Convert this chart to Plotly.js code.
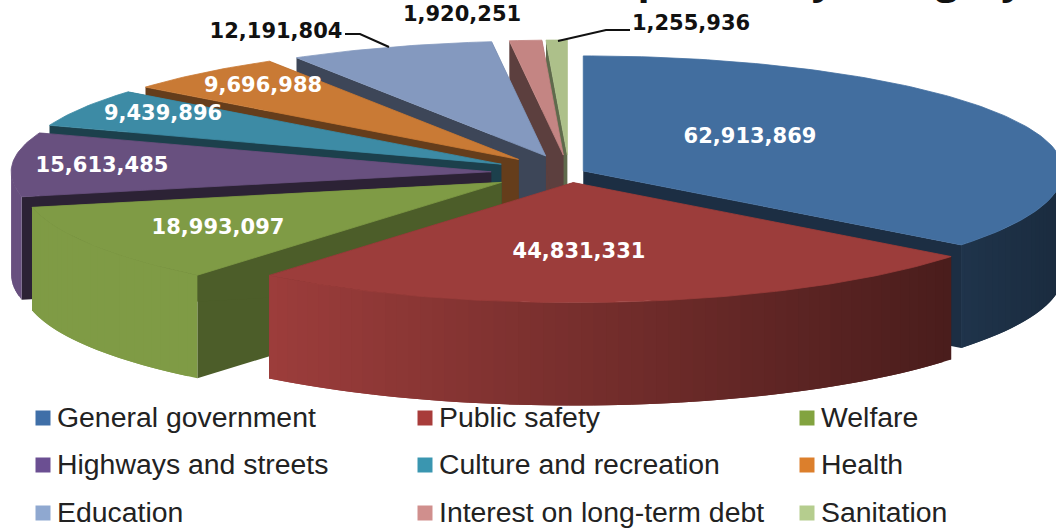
<!DOCTYPE html>
<html>
<head>
<meta charset="utf-8">
<script src="https://cdn.plot.ly/plotly-3.0.1.min.js"></script>
<style>html,body{margin:0;padding:0;background:#fff;overflow:hidden}#chart{width:1056px;height:529px}</style>
</head>
<body>
<div id="chart"></div>
<script>
// Expenses per category, in dollars
const categories = ["General government","Public safety","Welfare","Highways and streets","Culture and recreation","Health","Education","Interest on long-term debt","Sanitation"];
const amounts = [62913869,44831331,18993097,15613485,9439896,9696988,12191804,1920251,1255936];
const topColors = ["#426e9f","#9c3d3b","#7f9b45","#68507f","#3d8ba5","#c97a35","#8499bf","#c48583","#adc08a"];
const keyColors = ["#3f6fa8","#a83c3a","#82a33f","#6b4f92","#3a96b0","#dc7f2c","#8fa8d0","#d08f8d","#b5cd8e"];
const wallShades = [0.42,0.46,0.6,0.42,0.46,0.5,0.46,0.47,0.55];
const pulls = [0.04,0.08,0.15,0.15,0.15,0.15,0.15,0.15,0.15];
const nudges = [0,3,-3,-3,-2,0,3,3,3];

// Pie geometry in plot units
const cx = 566, cy = 173, rx = 480, ryFront = 120, ryBack = 115, depth = 103;
// Where each value label sits, and which ink it uses
const labelX = [750,579,218,102,163,263,276,462,691];
const labelY = [138,253,229,167,115,87,33,16,25];
const labelInk = ["#fff","#fff","#fff","#fff","#fff","#fff","#111","#111","#111"];
const keyColumns = [43,425,807];
const keyRows = [418,465,513];
// Back-to-front paint order
const paintOrder = [8,7,6,5,4,3,2,0,1];

const total = amounts.reduce((a,b)=>a+b,0);
const rad = d => d*Math.PI/180;
const spans = [];
let running = 0;
amounts.forEach(v => { const a = running; running += v/total*360; spans.push([a,running]); });

function shade(hex,f){
  const n = parseInt(hex.slice(1),16);
  const c = [n>>16,(n>>8)&255,n&255].map(v=>Math.round(v*f));
  return `rgb(${c.join(",")})`;
}
function apexOf(i){
  const mid = rad((spans[i][0]+spans[i][1])/2);
  return [cx+nudges[i]+pulls[i]*rx*Math.sin(mid), cy-pulls[i]*ryFront*Math.cos(mid)];
}
function rimPoint(i,deg){
  const [ax,ay] = apexOf(i);
  const c = Math.cos(rad(deg));
  return [ax+rx*Math.sin(rad(deg)), ay-(c>0?ryBack:ryFront)*c];
}
function poly(pts,color,edge){
  return {type:"scatter",mode:"lines",x:pts.map(p=>p[0]).concat(pts[0][0]),y:pts.map(p=>p[1]).concat(pts[0][1]),
    fill:"toself",fillcolor:color,line:edge?{color:color,width:edge}:{width:0},hoverinfo:"skip",showlegend:false};
}

const traces = [];
paintOrder.forEach(i => {
  const [a0,a1] = spans[i];
  const apex = apexOf(i);
  const wallColor = shade(topColors[i],wallShades[i]);
  // radial walls
  [a0,a1].forEach(a => {
    const p = rimPoint(i,a);
    traces.push(poly([apex,p,[p[0],p[1]+depth],[apex[0],apex[1]+depth]],wallColor));
  });
  // outer curved side, brighter toward the left; each strip overlaps the next to hide seams
  const from = Math.max(a0,90), to = Math.min(a1,270);
  for(let d=from;d<to;d+=1.5){
    const e = Math.min(d+3,to);
    const p = rimPoint(i,d), q = rimPoint(i,e);
    const f = Math.min(1,0.765-0.373*Math.sin(rad(d+0.75)));
    traces.push(poly([p,q,[q[0],q[1]+depth],[p[0],p[1]+depth]],shade(topColors[i],f)));
  }
  // top face
  const face = [apex];
  for(let d=a0;d<a1;d+=1) face.push(rimPoint(i,d));
  face.push(rimPoint(i,a1));
  traces.push(poly(face,topColors[i],0.8));
});

// leader lines for the outside labels
traces.push({type:"scatter",mode:"lines",x:[345,360,389],y:[34,34,47],line:{color:"#111",width:2},hoverinfo:"skip",showlegend:false});
traces.push({type:"scatter",mode:"lines",x:[630,606,558],y:[30,30,41],line:{color:"#111",width:2},hoverinfo:"skip",showlegend:false});

// value labels
traces.push({type:"scatter",mode:"text",x:labelX,y:labelY,
  text:amounts.map(v=>v.toLocaleString("en-US")),textposition:"middle center",
  textfont:{family:"DejaVu Sans",size:21,weight:700,color:labelInk},hoverinfo:"skip",showlegend:false});

// three-by-three key below the pie
categories.forEach((name,i) => {
  const x = keyColumns[i%3], y = keyRows[Math.floor(i/3)];
  traces.push({type:"scatter",mode:"markers",x:[x],y:[y],marker:{symbol:"square",size:15,color:keyColors[i]},hoverinfo:"skip",showlegend:false});
  traces.push({type:"scatter",mode:"text",x:[x+14],y:[y+2],text:[name],textposition:"middle right",
    textfont:{family:"Liberation Sans",size:28.4,color:"#222"},hoverinfo:"skip",showlegend:false});
});

const layout = {
  width:1056,height:529,margin:{l:0,r:0,t:0,b:0},paper_bgcolor:"#fff",plot_bgcolor:"#fff",showlegend:false,
  xaxis:{range:[0,1056],visible:false,fixedrange:true},
  yaxis:{range:[529,0],visible:false,fixedrange:true},
  annotations:[{text:"<b>Expenses by Category</b>",x:0.9715,y:1.04,xref:"paper",yref:"paper",xanchor:"right",yanchor:"middle",
    showarrow:false,font:{family:"Open Sans",size:40,color:"#111"}}]
};
Plotly.newPlot("chart",traces,layout,{staticPlot:true,displayModeBar:false});
</script>
</body>
</html>
